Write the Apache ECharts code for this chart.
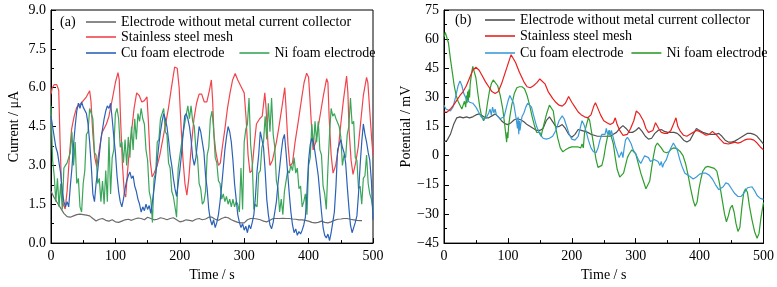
<!DOCTYPE html>
<html><head><meta charset="utf-8">
<script src="https://cdn.jsdelivr.net/npm/echarts@6/dist/echarts.min.js"></script>
<style>html,body{margin:0;padding:0;background:#fff}#c{width:777px;height:287px}</style>
</head><body><div id="c"></div>
<script>
// ---------- Tick labels / categories ----------
var seriesNames = ['Electrode without metal current collector','Stainless steel mesh','Cu foam electrode','Ni foam electrode'];
var xTicks = [0,100,200,300,400,500];
var yTicksA = [0,1.5,3,4.5,6,7.5,9];
var yTicksB = [-45,-30,-15,0,15,30,45,60,75];

// ---------- Panel (a): current, µA ----------
var aGrayT = [0,5,10,15,20,25,30,35,40,45,50,55,60,65,70,75,80,85,90,95,100,105,110,115,120,125,130,135,140,145,150,155,160,165,170,175,180,185,190,195,200,205,210,215,220,225,230,235,240,245,250,255,260,265,270,275,280,285,290,295,300,305,310,315,320,325,330,335,340,345,350,355,360,365,370,375,380,385,390,395,400,405,410,415,420,425,430,435,440,445,450,455,460,465,470,475,480,483];
var aGrayV = [2.0,1.75,1.55,1.35,1.15,1.02,1.0,1.05,1.1,1.12,1.1,1.08,1.05,0.95,0.85,0.92,0.95,0.88,0.85,0.9,0.82,0.8,0.85,0.9,0.92,0.88,0.93,0.97,0.95,0.9,1.0,0.95,0.9,0.92,0.98,0.95,0.9,0.95,0.98,0.9,0.82,0.85,0.9,0.88,0.85,0.92,0.95,0.9,0.93,1.0,1.0,0.92,0.88,0.95,1.0,0.98,0.9,0.85,0.8,0.78,0.78,0.9,0.95,0.95,0.93,0.9,0.85,0.82,0.88,0.95,0.95,0.95,0.96,0.95,0.95,0.93,0.92,0.9,0.9,0.88,0.85,0.8,0.78,0.8,0.85,0.8,0.78,0.82,0.88,0.92,0.93,0.95,0.95,0.92,0.9,0.88,0.87,0.87];

var aRedT = [0,2,5,9,12,14,16,19,22,25,29,32,36,40,47,55,60,62,65,68,71,75,79,86,90,94,100,104,106,108,111,114,116,119,122,125,129,133,137,141,145,149,151,154,157,160,165,169,175,182,187,192,196,199,202,205,208,211,214,218,222,226,230,234,238,242,246,249,251,253,256,260,263,266,270,274,278,282,286,290,296,300,303,306,309,312,316,319,324,328,332,334,337,340,344,350,354,358,363,365,368,371,375,379,384,389,393,397,400,402,405,407,411,415,419,423,428,430,432,435,438,442,446,450,454,459,461,463,466,469,473,477,481,485,490,492,495,498,500];
var aRedV = [5.75,6.0,6.12,6.12,5.9,4.0,2.4,1.5,1.32,2.0,3.5,4.4,4.9,5.25,5.4,5.65,5.88,5.5,4.2,3.3,2.95,3.6,4.25,4.6,4.9,5.4,6.2,6.58,6.3,4.8,3.0,1.9,1.78,2.8,3.7,4.3,5.2,5.8,5.7,5.45,5.5,5.65,4.8,3.2,2.55,2.7,3.0,3.4,4.2,5.15,6.0,6.8,6.75,6.0,4.5,3.2,2.3,1.85,2.5,3.8,4.8,5.4,5.75,5.75,5.45,5.45,5.9,6.3,5.5,4.2,3.5,3.0,3.1,3.7,4.4,5.2,5.8,6.3,6.55,6.3,6.0,5.8,4.8,3.4,2.72,2.8,3.9,4.6,4.8,4.9,5.8,5.2,3.8,3.0,3.2,3.9,4.5,5.15,6.0,5.2,3.8,2.97,3.1,3.9,4.7,5.55,6.2,6.56,6.4,5.6,4.3,3.6,3.9,4.5,5.1,5.7,6.35,6.2,4.8,3.4,2.7,3.0,3.6,4.6,5.5,6.45,5.8,4.3,3.2,2.65,3.1,3.7,4.7,5.7,6.4,6.2,5.1,4.0,3.4];

// sampled every 2.5 s from t = 0
var aStep = 2.5;
var aBlueV = [4.9,4.5,4.1,3.7,3.5,3.1,2.7,2.0,1.6,1.4,1.6,1.4,2.2,2.9,3.8,4.5,5.1,5.4,5.2,5.45,5.25,5.3,5.0,4.6,3.9,3.0,1.9,1.6,2.3,2.8,3.4,4.0,4.4,4.8,5.1,5.3,5.2,5.4,4.8,4.1,3.5,2.6,2.0,1.6,1.4,1.7,2.1,2.4,2.6,2.75,2.5,2.6,2.2,2.0,1.7,1.5,1.2,1.4,1.25,1.5,1.3,1.45,1.15,1.6,2.1,2.6,3.2,3.8,4.3,4.7,5.0,4.8,4.5,4.0,3.4,3.0,2.5,2.1,1.8,2.3,2.8,3.4,4.2,4.9,5.0,4.8,4.5,4.0,3.3,3.0,3.3,3.9,4.5,4.3,3.9,3.5,2.6,2.1,1.3,0.9,0.7,0.9,0.6,0.8,1.1,1.6,2.2,2.9,3.6,4.1,4.5,4.3,3.9,3.2,2.3,1.7,1.1,0.8,0.6,0.75,0.5,0.65,0.4,0.7,0.55,0.8,1.1,1.8,2.8,3.4,4.3,4.0,3.7,2.8,1.7,1.1,0.7,0.55,0.8,1.2,1.6,2.3,2.9,3.5,4.0,4.2,3.5,2.7,1.9,1.2,0.7,0.4,0.55,0.3,0.45,0.35,0.5,0.7,1.0,2.0,3.2,3.8,4.05,3.9,3.5,3.5,2.6,1.9,1.2,0.6,0.3,0.2,0.35,0.1,0.4,0.8,1.2,2.2,3.6,3.8,4.0,3.7,3.5,3.1,2.2,1.4,0.7,0.4,0.6,0.8,1.05,1.9,3.0,3.9,4.6,4.2,3.9,3.5,3.2,2.4,0.9];
var aGreenV = [5.3,3.2,2.6,1.6,2.5,1.4,2.3,1.3,2.9,3.0,3.1,3.3,3.5,4.3,3.0,3.9,2.3,2.5,1.4,1.2,
  2.3,2.8,4.2,4.3,5.2,5.0,4.8,3.5,3.4,2.3,
  2.5,1.6,2.4,1.5,2.8,1.6,4.1,1.9,3.3,3.6,
  5.0,5.2,4.8,3.7,3.9,3.1,4.0,3.0,4.1,3.3,
  4.5,3.6,4.8,4.0,5.0,4.7,5.2,4.8,4.6,3.6,
  3.2,2.0,1.7,0.8,2.5,2.7,3.9,4.0,4.8,4.8,
  5.2,4.3,4.2,3.1,2.9,2.0,1.8,1.8,1.0,2.9,
  2.9,3.8,3.8,4.6,4.6,5.3,4.8,5.3,4.7,4.5,
  3.6,3.3,2.3,2.1,1.5,1.6,2.0,3.4,3.7,4.8,
  5.1,4.4,3.3,3.1,2.4,2.3,1.7,1.9,1.6,1.8,
  1.5,1.7,1.4,1.7,1.4,1.6,1.5,1.2,2.9,1.3,
  3.9,4.4,4.6,5.6,3.8,3.1,1.3,1.5,1.4,2.7,
  2.8,3.7,3.9,4.9,4.0,5.4,4.3,5.6,4.2,3.7,
  2.4,2.1,1.2,1.7,1.1,2.0,2.0,2.8,2.7,3.0,
  2.8,3.3,2.7,2.9,2.1,2.2,1.4,1.6,1.9,1.1,
  3.0,3.3,4.6,3.7,4.7,3.9,4.7,3.6,3.4,2.2,
  1.9,1.3,2.9,4.2,5.2,4.9,5.0,4.8,4.8,4.5,
  4.1,3.0,3.4,3.3,4.2,4.5,5.6,4.6,4.7,3.3,
  3.2,2.1,2.2,1.5,2.5,2.6,3.4,2.3,1.9,1.7,1.3];

// ---------- Panel (b): potential, mV ----------
var bGrayT = [0,5,10,15,20,25,30,35,40,45,50,55,60,65,70,75,80,85,90,95,100,105,110,115,120,125,130,135,140,145,150,155,160,165,170,175,180,185,190,195,200,205,210,215,220,225,230,235,240,245,250,255,260,265,270,275,280,285,290,295,300,305,310,315,320,325,330,335,340,345,350,355,360,365,370,375,380,385,390,395,400,405,410,415,420,425,430,435,440,445,450,455,460,465,470,475,480,485,490,495,500];
var bGrayV = [7,8,11,16,19.5,20,19.5,20,19.5,20,21,21.5,20.5,19.5,19.5,20.5,21.5,20,18,16.5,16,17,18.5,19,18.5,17.5,16,15,14,13,13,14,18,20,17.5,15,15,16,14,11,9.5,11,13.5,13,12.5,12,11,10.5,10,10,10,10,10,11,12,14,15.5,14,12,12,13,14.5,12.5,10,8.5,9,11.5,13,13.5,12.5,12,12,12,11.5,10,8,7,8,11,14,13,12,11.5,11,11,11,11.5,10,8,7,7,7.5,8.5,9.5,10.5,11.5,11.5,11,10,8,6];

var bRedT = [0,5,10,15,20,25,30,35,40,45,50,55,60,65,70,75,80,85,90,95,100,105,108,112,118,125,130,135,140,145,150,153,158,163,170,175,180,185,190,195,197,200,205,210,215,220,225,230,235,237,240,245,250,255,260,265,268,271,275,280,283,287,292,297,301,303,306,308,312,316,320,323,327,331,333,336,340,345,350,355,360,363,366,370,375,380,385,390,395,400,405,410,415,420,423,427,432,438,445,450,455,460,465,470,475,480,485,490,495,500];
var bRedV = [22.5,22.5,24,26,28.5,31,33,36,40,44,45.5,44,41,38,35.5,33,32,33,37,42,47,52,52.5,48,43,38,35.5,35,36,37.5,39.5,40,37,33,29.5,27.5,26,25.5,27,30.5,30.5,27.5,25,22.5,21,20,19.5,21,26,27.2,25,21,18,17,16,17,19.5,16,13,10.5,9.5,11,14,18,23,22,21.5,22,18,14,12,11,13,17,18,14,12,11.5,11.5,13,17,19.5,15,12.5,10.5,10,11,12,13,12.5,11.5,10.5,11,12.5,12,10.5,8.5,6.5,6,6.5,7,6.5,7,8,8.5,8.5,8,6.5,4.5,3];

var bBlueT = [0,3,6,10,14,18,22,25,28,31,35,40,45,50,55,58,62,66,70,72,74,76,78,80,82,85,88,91,94,97,100,103,106,109,111,113,115,116,117,118,119,120,122,125,128,131,134,137,140,145,150,155,160,165,170,175,180,185,188,192,196,200,205,210,213,216,219,222,226,230,234,238,241,244,247,250,252,254,256,258,260,262,265,268,271,274,276,278,280,282,284,287,290,293,296,300,304,308,311,314,317,320,323,326,329,332,335,338,340,342,344,346,348,351,355,359,362,365,369,373,377,382,386,390,395,400,405,410,415,420,425,430,433,437,441,445,450,455,460,465,470,475,478,482,486,490,495,500];
var bBlueV = [26,24,23,23,25,30,36,38.5,36,32,29,27.5,27,25,22,20,19,19.5,22,24,21,25,22,24,21,22,19,18,20,24,28,31,30,27,23,19,14,20,11,18,13,16,20,22,25,27,28,25,21,15,11,9,8.5,9,10,13,18,20.5,19,15,11,8.5,8,10,14,18,16,13,8,4,2,1.5,4,8,11,12,11,14,11,13,10,13,9,5,2,-1,-2,2,-1,4,8,9.5,8,6,3,1,-2,-4,-2,0,1,-1,-3,-4,-2,-1,-3,-5,-3,-6,-4,-5,-2,1,4,6.5,6,3,-2,-6,-9,-10,-11,-12,-11,-9.5,-9,-9,-10,-12,-15,-17.5,-18,-16,-14,-14.5,-17,-19.5,-21,-21,-19,-16.5,-15.5,-16,-18,-20.5,-22,-22.5];

var bGreenT = [0,2,4,7,10,13,16,19,22,25,28,30,32,34,35,36,37,38,39,40,41,43,45,47,50,53,56,59,62,65,68,71,74,77,80,84,88,92,95,97,98,99,100,101,103,106,110,114,118,122,126,130,134,138,142,145,148,150,152,154,157,161,165,168,171,174,178,182,186,190,195,200,205,210,214,216,218,220,223,226,228,231,235,238,241,244,247,250,253,256,259,262,265,268,271,275,278,281,284,287,290,294,297,300,304,308,312,316,319,322,325,328,331,334,337,340,344,348,352,356,360,365,370,374,378,382,386,390,393,396,399,402,405,409,413,418,423,427,431,435,439,442,445,448,451,454,457,460,463,466,469,472,475,478,482,486,490,493,496,500];
var bGreenV = [61,63.5,63,58,50,43,36,31,28,26,24,26,28,25,31,27,33,28,34,30,37,42,46,45,40,32,25,20,18,20,27,33,37,39,38.5,36,31,24,16,10,7,12,9,15,20,26,32,35,35.5,35.5,34.5,31,26,20,15,12,11,12,10,13,17,22,26,27,23,16,9,4,2,3,4,4.5,4.5,4.5,4,6,4,12,16,19.5,18,12,4,-2,-6,-7,-5,-1,5,10,13,12,6,-1,-7,-11,-12,-9,-5,-1,1,3,3.5,1,-4,-9,-13,-17,-17.5,-13,-6,0,5,6.5,6,4,2,1.5,2,3.5,4,3.5,2,0,-4,-10,-17,-23,-26,-24,-17,-12,-8,-6,-5.5,-6,-6.5,-8,-14,-22,-30,-34,-31,-27,-25.5,-29,-35,-39,-37,-27,-19,-17,-19,-26,-33,-39,-42.5,-40,-32,-24];

// ---------- build ----------
function pairs(t, v) { return v.map(function (y, i) { return [t[i], y]; }); }
function stepPairs(step, v) { return v.map(function (y, i) { return [i * step, y]; }); }

var colA = ['#6b6b6b', '#f0454d', '#2b62b8', '#3aa65a'];
var colB = ['#505050', '#e8211f', '#3b9bd8', '#2e9e2e'];
var FONT = 'Liberation Serif, DejaVu Serif, serif';

function line(name, data, color, idx) {
  return { name: name, type: 'line', data: data, xAxisIndex: idx, yAxisIndex: idx,
    showSymbol: false, symbol: 'none', smooth: false, animation: false,
    lineStyle: { color: color, width: 1.2 }, itemStyle: { color: color } };
}

var series = [
  line(seriesNames[0], pairs(aGrayT, aGrayV), colA[0], 0),
  line(seriesNames[1], pairs(aRedT, aRedV), colA[1], 0),
  line(seriesNames[3], stepPairs(aStep, aGreenV), colA[3], 0),
  line(seriesNames[2], stepPairs(aStep, aBlueV), colA[2], 0),
  line('b:' + seriesNames[0], pairs(bGrayT, bGrayV), colB[0], 1),
  line('b:' + seriesNames[3], pairs(bGreenT, bGreenV), colB[3], 1),
  line('b:' + seriesNames[2], pairs(bBlueT, bBlueV), colB[2], 1),
  line('b:' + seriesNames[1], pairs(bRedT, bRedV), colB[1], 1)
];

function xAxis(idx, name) {
  return { type: 'value', gridIndex: idx, min: xTicks[0], max: xTicks[xTicks.length - 1], interval: xTicks[1] - xTicks[0],
    name: name, nameLocation: 'middle', nameGap: 23,
    nameTextStyle: { fontFamily: FONT, fontSize: 14, color: '#000' },
    axisLine: { onZero: false, lineStyle: { color: '#000', width: 1 } },
    axisTick: { inside: true, length: 5, lineStyle: { color: '#000' } },
    minorTick: { show: true, splitNumber: 2, length: 3, lineStyle: { color: '#000' } },
    splitLine: { show: false },
    axisLabel: { fontFamily: FONT, fontSize: 14, color: '#000', margin: 6, showMinLabel: true, showMaxLabel: true } };
}
function yAxis(idx, ticks, name, fmt) {
  return { type: 'value', gridIndex: idx, min: ticks[0], max: ticks[ticks.length - 1], interval: ticks[1] - ticks[0],
    name: name, nameLocation: 'middle', nameGap: 30,
    nameTextStyle: { fontFamily: FONT, fontSize: 14, color: '#000' },
    axisLine: { onZero: false, lineStyle: { color: '#000', width: 1 } },
    axisTick: { inside: true, length: 5, lineStyle: { color: '#000' } },
    minorTick: { show: true, splitNumber: 2, length: 3, lineStyle: { color: '#000' } },
    splitLine: { show: false },
    axisLabel: { fontFamily: FONT, fontSize: 14, color: '#000', margin: 5, formatter: fmt, showMinLabel: true, showMaxLabel: true } };
}

function legend(left, top, names, gap) {
  return { left: left, top: top, orient: 'horizontal', padding: 0, itemGap: gap || 10,
    itemWidth: 30, itemHeight: 1.6, icon: 'rect', selectedMode: false, data: names,
    formatter: function (n) { return n.replace(/^b:/, ''); },
    textStyle: { fontFamily: FONT, fontSize: 14, color: '#000', padding: [0, 0, 0, 0] } };
}

var option = {
  backgroundColor: '#fff',
  animation: false,
  grid: [
    { left: 51, top: 10, width: 322, height: 234, show: true, borderColor: '#000', borderWidth: 1, backgroundColor: 'transparent' },
    { left: 444, top: 10, width: 320, height: 234, show: true, borderColor: '#000', borderWidth: 1, backgroundColor: 'transparent' }
  ],
  xAxis: [xAxis(0, 'Time / s'), xAxis(1, 'Time / s')],
  yAxis: [
    yAxis(0, yTicksA, 'Current / μA', function (v) { return v.toFixed(1); }),
    yAxis(1, yTicksB, 'Potential / mV', function (v) { return String(v).replace('-', '\u2212'); })
  ],
  legend: [
    legend(86, 15, [seriesNames[0]]),
    legend(86, 30, [seriesNames[1]]),
    legend(86, 46, [seriesNames[2], seriesNames[3]], 15),
    legend(485, 13, ['b:' + seriesNames[0]]),
    legend(485, 29, ['b:' + seriesNames[1]]),
    legend(485, 46, ['b:' + seriesNames[2], 'b:' + seriesNames[3]], 8)
  ],
  graphic: [
    { type: 'text', left: 60, top: 15, style: { text: '(a)', font: '14px ' + FONT, fill: '#000' } },
    { type: 'text', left: 455, top: 13, style: { text: '(b)', font: '14px ' + FONT, fill: '#000' } }
  ],
  series: series
};

var chart = echarts.init(document.getElementById('c'), null, { renderer: 'canvas' });
chart.setOption(option);
</script>
</body></html>
